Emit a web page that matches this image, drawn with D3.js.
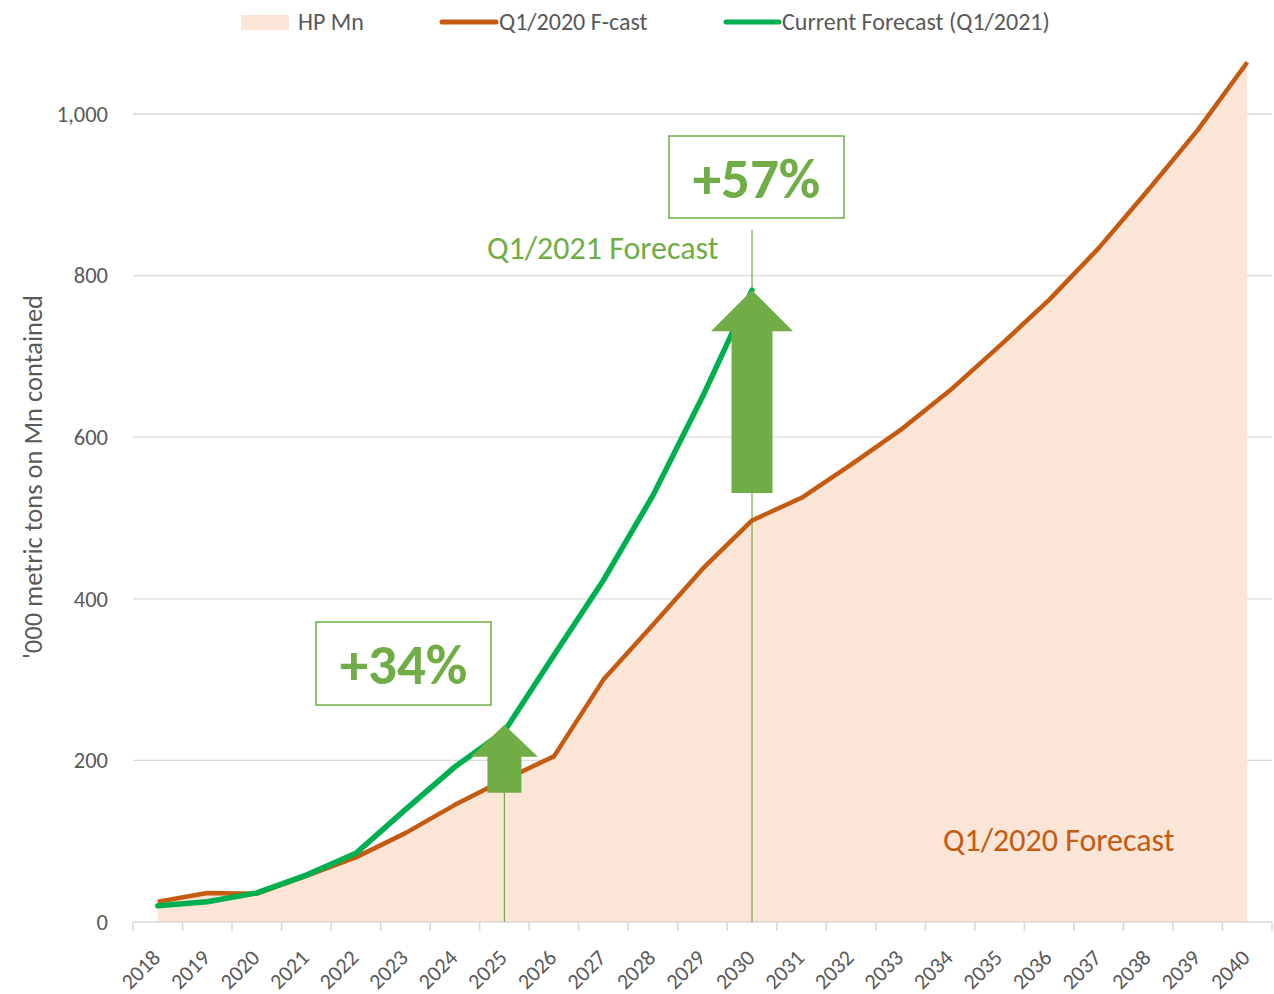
<!DOCTYPE html>
<html>
<head>
<meta charset="utf-8">
<script src="https://cdn.jsdelivr.net/npm/d3@7"></script>
<style>
  body { margin: 0; background: #fff; }
  text { font-family: Carlito, "Liberation Sans Narrow", "Open Sans", sans-serif; }
</style>
</head>
<body>
<div id="chart"></div>
<script>
// data
const YEARS = d3.range(2018, 2041).map(String);
const FCAST_2020 = [25, 36, 35, 57, 80, 110, 145, 176, 205, 300, 368, 437, 497,
                    525, 566, 609, 658, 713, 770, 834, 906, 980, 1064];
const CUR_YEARS = d3.range(2018, 2031).map(String);
const FCAST_2021 = [20, 25, 36, 58, 85, 139, 192, 236, 330, 423, 528, 650, 782];
const Y_TICKS = [0, 200, 400, 600, 800, 1000];
const ARROW_YEARS = ['2025', '2030'];
const ARROW_FROM = [160, 531];
const ARROW_TO = [244, 782];
const ARROW_LABELS = ['+34%', '+57%'];

// constants
const WIDTH = 1274, HEIGHT = 994;
const MARGINS = {left: 133, right: 2, top: 114, bottom: 72};
const GREEN = '#00B050', ORANGE = '#C55A11', ANNOT = '#70AD47', AREA = '#FBE5D6';
const GREY_TXT = '#595959', GRID = '#D9D9D9';

const svg = d3.select('#chart').append('svg')
    .attr('width', WIDTH).attr('height', HEIGHT);

const xScale = d3.scaleBand()
    .domain(YEARS)
    .range([MARGINS.left, WIDTH - MARGINS.right]);
const xc = d => xScale(d) + xScale.bandwidth() / 2;

const yScale = d3.scaleLinear()
    .domain([0, 1000])
    .range([HEIGHT - MARGINS.bottom, MARGINS.top]);

// gridlines
svg.append('g')
    .selectAll('line')
    .data(Y_TICKS.slice(1))
    .enter().append('line')
    .attr('x1', MARGINS.left).attr('x2', WIDTH - MARGINS.right)
    .attr('y1', d => yScale(d)).attr('y2', d => yScale(d))
    .attr('stroke', GRID).attr('stroke-width', 1.3);

// y axis labels
svg.append('g')
    .selectAll('text')
    .data(Y_TICKS)
    .enter().append('text')
    .attr('x', 108)
    .attr('y', d => yScale(d))
    .attr('dy', '0.35em')
    .attr('text-anchor', 'end')
    .attr('font-size', '22.5px')
    .attr('fill', GREY_TXT)
    .text(d => d3.format(',')(d));

// y axis title
svg.append('text')
    .attr('transform', 'translate(42,477) rotate(-90)')
    .attr('text-anchor', 'middle')
    .attr('font-size', '26.5px')
    .attr('fill', GREY_TXT)
    .text("'000 metric tons on Mn contained");

// area
const area = d3.area()
    .x((d, i) => xc(YEARS[i]))
    .y0(yScale(0))
    .y1(d => yScale(d));
svg.append('path')
    .datum(FCAST_2020)
    .attr('d', area)
    .attr('fill', AREA);

// x axis
const xAxis = svg.append('g')
    .attr('transform', 'translate(0,' + yScale(0) + ')');
xAxis.append('line')
    .attr('x1', MARGINS.left).attr('x2', WIDTH - MARGINS.right)
    .attr('stroke', GRID).attr('stroke-width', 1.5);
xAxis.selectAll('.tick')
    .data(YEARS.concat(['end']))
    .enter().append('line')
    .attr('x1', (d, i) => MARGINS.left + i * xScale.bandwidth())
    .attr('x2', (d, i) => MARGINS.left + i * xScale.bandwidth())
    .attr('y1', 0).attr('y2', 9)
    .attr('stroke', GRID).attr('stroke-width', 1.5);
xAxis.selectAll('text')
    .data(YEARS)
    .enter().append('text')
    .attr('transform', d => 'translate(' + (xc(d) + 4) + ',37) rotate(-45)')
    .attr('text-anchor', 'end')
    .attr('font-size', '22px')
    .attr('fill', GREY_TXT)
    .text(d => d);

// vertical annotation lines
svg.append('line')
    .attr('x1', xc('2025')).attr('x2', xc('2025'))
    .attr('y1', yScale(0)).attr('y2', yScale(ARROW_FROM[0]))
    .attr('stroke', ANNOT).attr('stroke-width', 1.2);
svg.append('line')
    .attr('x1', xc('2030')).attr('x2', xc('2030'))
    .attr('y1', yScale(0)).attr('y2', 230)
    .attr('stroke', ANNOT).attr('stroke-width', 1.2);

// lines
const line = (years) => d3.line()
    .x((d, i) => xc(years[i]))
    .y(d => yScale(d));
svg.append('path')
    .datum(FCAST_2020)
    .attr('d', line(YEARS))
    .attr('fill', 'none')
    .attr('stroke', ORANGE)
    .attr('stroke-width', 4.5)
    .attr('stroke-linejoin', 'round');
svg.append('path')
    .datum(FCAST_2021)
    .attr('d', line(CUR_YEARS))
    .attr('fill', 'none')
    .attr('stroke', GREEN)
    .attr('stroke-width', 5.5)
    .attr('stroke-linejoin', 'round')
    .attr('stroke-linecap', 'round');

// arrows
const SHAFT_W = [34, 41], HEAD_W = [67, 82], HEAD_H = [32, 41];
ARROW_YEARS.forEach((yr, i) => {
    const cx = xc(yr);
    const yb = yScale(ARROW_FROM[i]), yt = yScale(ARROW_TO[i]);
    const yh = yt + HEAD_H[i];
    const s = SHAFT_W[i] / 2, h = HEAD_W[i] / 2;
    const pts = [[cx - s, yb], [cx - s, yh], [cx - h, yh], [cx, yt],
                 [cx + h, yh], [cx + s, yh], [cx + s, yb]];
    svg.append('path')
        .attr('d', 'M' + pts.join('L') + 'Z')
        .attr('fill', ANNOT);
});

// percentage boxes
const BOXES = [{x: 316, y: 622, w: 175, h: 83}, {x: 669, y: 136, w: 175, h: 82}];
BOXES.forEach((b, i) => {
    svg.append('rect')
        .attr('x', b.x).attr('y', b.y).attr('width', b.w).attr('height', b.h)
        .attr('fill', '#fff').attr('stroke', ANNOT).attr('stroke-width', 1.5);
    svg.append('text')
        .attr('x', b.x + b.w / 2).attr('y', b.y + b.h / 2)
        .attr('dy', '0.36em')
        .attr('text-anchor', 'middle')
        .attr('font-family', 'Liberation Sans, Arial, sans-serif')
        .attr('font-weight', 'bold')
        .attr('font-size', '57px')
        .attr('fill', ANNOT)
        .text(ARROW_LABELS[i]);
});

// series labels
svg.append('text')
    .attr('x', 487).attr('y', 259)
    .attr('font-size', '32px')
    .attr('fill', ANNOT)
    .text('Q1/2021 Forecast');
svg.append('text')
    .attr('x', 943).attr('y', 851)
    .attr('font-size', '32px')
    .attr('fill', ORANGE)
    .text('Q1/2020 Forecast');

// legend
const legend = svg.append('g').attr('font-size', '24px').attr('fill', GREY_TXT);
legend.append('rect')
    .attr('x', 241).attr('y', 15).attr('width', 48).attr('height', 15)
    .attr('fill', AREA);
legend.append('text').attr('x', 298).attr('y', 22).attr('dy', '0.35em').text('HP Mn');
legend.append('line')
    .attr('x1', 442).attr('x2', 496).attr('y1', 22).attr('y2', 22)
    .attr('stroke', ORANGE).attr('stroke-width', 5).attr('stroke-linecap', 'round');
legend.append('text').attr('x', 499).attr('y', 22).attr('dy', '0.35em').text('Q1/2020 F-cast');
legend.append('line')
    .attr('x1', 726).attr('x2', 779).attr('y1', 22).attr('y2', 22)
    .attr('stroke', GREEN).attr('stroke-width', 5).attr('stroke-linecap', 'round');
legend.append('text').attr('x', 782).attr('y', 22).attr('dy', '0.35em').text('Current Forecast (Q1/2021)');
</script>
</body>
</html>
